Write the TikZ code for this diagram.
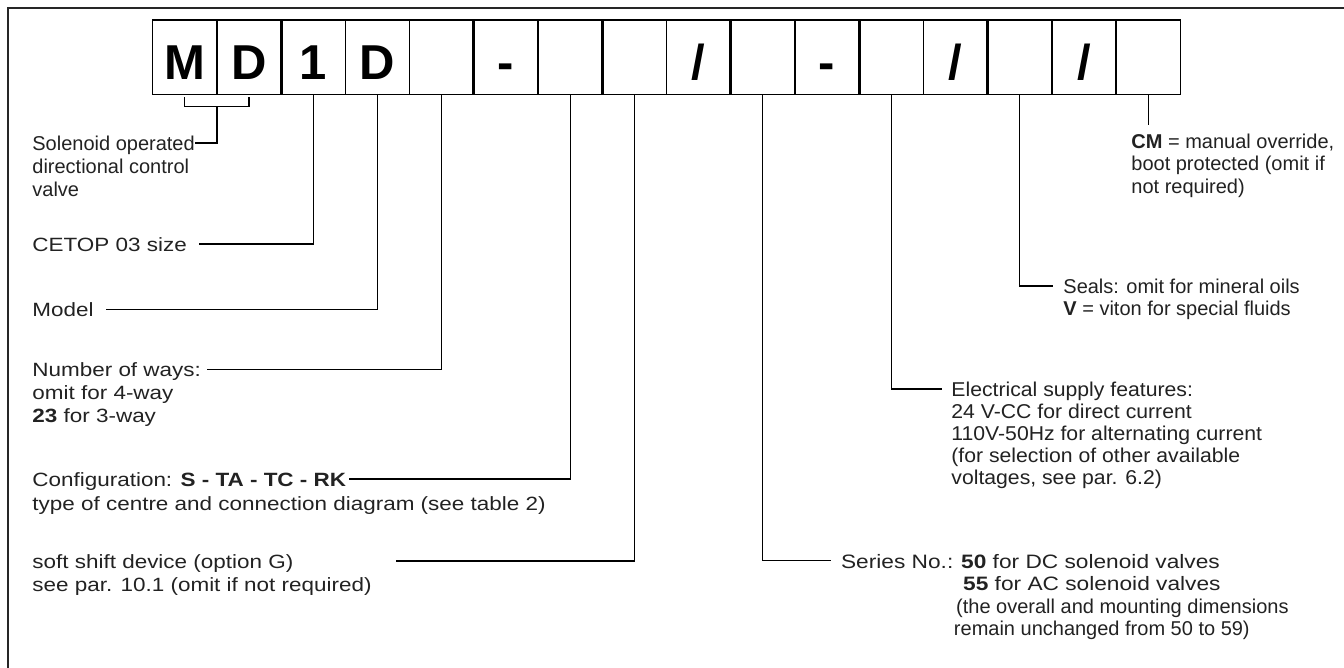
\documentclass[tikz,border=0pt]{standalone}
\usepackage{fontspec}
\setmainfont{Liberation Sans}
\newfontfamily\widefont{Liberation Sans}[FakeStretch=1.17]
\newfontfamily\midfont{Liberation Sans}[FakeStretch=1.06]
\newcommand{\widetxt}{\widefont\fontsize{9.7}{11.2}\selectfont}
\usepackage{tikz}
\usetikzlibrary{positioning}
\definecolor{inkGrey}{HTML}{222222}

\begin{document}
\begin{tikzpicture}[x=0.5pt, y=-0.5pt,
    every node/.style={text=inkGrey},
    codebox/.style={draw=black, line width=0.7pt, outer sep=0pt, inner sep=0pt,
                    minimum width=32.11pt, minimum height=37.15pt,
                    text height=22.85pt, text depth=0pt, text=black,
                    font=\fontsize{24.5}{24.5}\selectfont\bfseries},
    divider/.style={draw=black, line width=1.4pt},
    lbl/.style={anchor=north west, inner sep=0pt, align=left,
                font=\widefont\fontsize{9.6}{11.6}\selectfont},
    rlbl/.style={anchor=north west, inner sep=0pt, align=left,
                 font=\fontsize{10}{11.2}\selectfont},
    conn/.style={draw=black, line width=0.65pt}]
  \useasboundingbox (0,0) rectangle (1344,668);
  \draw[line width=1pt, black!85] (8,690) |- (1370,8);

  \node[codebox] (b1)  at (184.81,57.15)  {M};
  \node[codebox] (b2)  at (249.04,57.15)  {D};
  \node[codebox] (b3)  at (313.26,57.15)  {1};
  \node[codebox] (b4)  at (377.49,57.15)  {D};
  \node[codebox] (b5)  at (441.71,57.15)  {};
  \node[codebox] (b6)  at (505.94,57.15)  {-};
  \node[codebox] (b7)  at (570.16,57.15)  {};
  \node[codebox] (b8)  at (634.39,57.15)  {};
  \node[codebox] (b9)  at (698.61,57.15)  {/};
  \node[codebox] (b10) at (762.84,57.15)  {};
  \node[codebox] (b11) at (827.06,57.15)  {-};
  \node[codebox] (b12) at (891.29,57.15)  {};
  \node[codebox] (b13) at (955.51,57.15)  {/};
  \node[codebox] (b14) at (1019.74,57.15) {};
  \node[codebox] (b15) at (1083.96,57.15) {/};
  \node[codebox] (b16) at (1148.19,57.15) {};
  \draw[divider] (b2.north east)  -- (b2.south east);
  \draw[divider] (b5.north east)  -- (b5.south east);
  \draw[divider] (b7.north east)  -- (b7.south east);
  \draw[divider] (b9.north east)  -- (b9.south east);
  \draw[divider] (b11.north east) -- (b11.south east);
  \draw[divider] (b13.north east) -- (b13.south east);
  \draw[divider] (b15.north east) -- (b15.south east);

  \node[lbl, font=\fontsize{10}{11.6}\selectfont] (sol) at (32,133.9)
       {\strut Solenoid operated\\directional control\\valve};
  \node[lbl] (cetop) at (32,234.6) {\strut CETOP 03 size};
  \node[lbl] (model) at (32,299.9) {\strut Model};
  \node[lbl] (ways) at (32,359.9)
       {\strut Number of ways:\\omit for 4-way\\\textbf{23} for 3-way};
  \node[lbl] (config) at (32,469.6) {\strut Configuration: \textbf{S - TA - TC - RK}};
  \node[lbl, below=0pt of config.south west, anchor=north west] (configtxt)
       {\strut type of centre and connection diagram (see table 2)};
  \node[lbl] (soft) at (32,551.6)
       {\strut soft shift device (option G)\\see par. 10.1 (omit if not required)};

  \node[rlbl] (cm) at (1131,132.5)
       {\strut\textbf{CM} = manual override,\\boot protected (omit if\\not required)};
  \node[rlbl] (seals) at (1063,277.5)
       {\strut Seals: omit for mineral oils\\\textbf{V} = viton for special fluids};
  \node[rlbl, font=\midfont\fontsize{10}{11}\selectfont] (elec) at (951,381)
       {\strut Electrical supply features:\\24 V-CC for direct current\\
        110V-50Hz for alternating current\\(for selection of other available\\
        voltages, see par. 6.2)};
  \node[rlbl, font=\widetxt] (series) at (840.7,552.2) {\strut Series No.:};
  \node[rlbl, right=3.5pt of series.north east, anchor=north west] (seriestxt)
       {\strut\widetxt\textbf{50} for DC solenoid valves\\
        \widetxt\hspace*{1pt}\textbf{55} for AC solenoid valves\\
        \hspace*{-2.5pt}(the overall and mounting dimensions\\
        \hspace*{-3.6pt}remain unchanged from 50 to 59)};

  \draw[conn] ([yshift=-1.5pt]b1.south) -- ++(0,9) -| ([yshift=-1.5pt]b2.south);
  \draw[conn] ([yshift=-6pt]b1.south east) |- ([yshift=-4.55pt]sol.north east);
  \draw[conn] (b3.south) |- ([shift={(12,9.4)}]cetop.north east);
  \draw[conn] (b4.south) |- ([shift={(12,9.4)}]model.north east);
  \draw[conn] (b5.south) |- ([shift={(6,9.4)}]ways.north east);
  \draw[conn] (b7.south) |- ([shift={(2,9.4)}]config.north east);
  \draw[conn] (b8.south) |- ([shift={(24,9.4)}]soft.north east);
  \draw[conn] (b10.south) |- ([shift={(-10,8.5)}]series.north west);
  \draw[conn] (b12.south) |- ([shift={(-9,8)}]elec.north west);
  \draw[conn] (b14.south) |- ([shift={(-10,8.5)}]seals.north west);
  \draw[conn] (b16.south) -- ([yshift=3.5pt]b16.south |- cm.north);
\end{tikzpicture}
\end{document}
